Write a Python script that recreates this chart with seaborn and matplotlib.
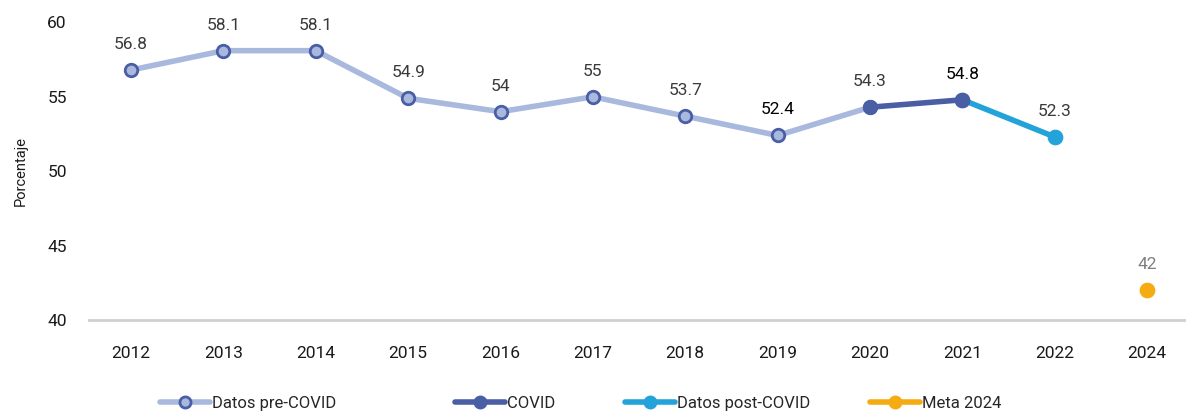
import matplotlib
matplotlib.use("Agg")
import matplotlib.pyplot as plt
import seaborn as sns
import pandas as pd
from matplotlib.lines import Line2D

# Year categories on the x axis
years = ["2012", "2013", "2014", "2015", "2016", "2017", "2018", "2019", "2020", "2021", "2022", "2024"]

# Series
pre_years = ["2012", "2013", "2014", "2015", "2016", "2017", "2018", "2019", "2020"]
pre_vals = [56.8, 58.1, 58.1, 54.9, 54.0, 55.0, 53.7, 52.4, 54.3]
covid_years = ["2020", "2021"]
covid_vals = [54.3, 54.8]
post_years = ["2021", "2022"]
post_vals = [54.8, 52.3]
meta_years = ["2024"]
meta_vals = [42.0]

# Point labels
label_years = ["2012", "2013", "2014", "2015", "2016", "2017", "2018", "2019", "2020", "2021", "2022", "2024"]
label_vals = [56.8, 58.1, 58.1, 54.9, 54.0, 55.0, 53.7, 52.4, 54.3, 54.8, 52.3, 42.0]
label_text = ["56.8", "58.1", "58.1", "54.9", "54", "55", "53.7", "52.4", "54.3", "54.8", "52.3", "42"]

C_PRE = "#a9b9de"
C_PRE_EDGE = "#4a5ea6"
C_COVID = "#4a5ea6"
C_POST = "#23a3da"
C_META = "#f5ab12"

sns.set_theme(style="white")
plt.rcParams["font.family"] = ["Roboto", "DejaVu Sans"]

fig = plt.figure(figsize=(11.86, 4.11), dpi=100)
ax = fig.add_axes([89 / 1186, (411 - 320) / 411, 1 - 89 / 1186, (320 - 22.4) / 411])


def frame(ys, vs):
    return pd.DataFrame({"x": [years.index(y) for y in ys], "v": vs})


sns.lineplot(data=frame(pre_years, pre_vals), x="x", y="v", ax=ax, color=C_PRE, lw=4,
             marker="o", markersize=9, markerfacecolor=C_PRE, markeredgecolor=C_PRE_EDGE,
             markeredgewidth=2, zorder=3)
sns.lineplot(data=frame(covid_years, covid_vals), x="x", y="v", ax=ax, color=C_COVID, lw=4,
             marker="o", markersize=10, markerfacecolor=C_COVID, markeredgecolor=C_COVID, zorder=4)
sns.lineplot(data=frame(post_years, post_vals), x="x", y="v", ax=ax, color=C_POST, lw=4,
             zorder=3)
sns.scatterplot(data=frame(post_years[1:], post_vals[1:]), x="x", y="v", ax=ax, color=C_POST,
                s=110, edgecolor=C_POST, zorder=5)
sns.scatterplot(data=frame(covid_years[1:], covid_vals[1:]), x="x", y="v", ax=ax, color=C_COVID,
                s=110, edgecolor=C_COVID, zorder=6)
sns.scatterplot(data=frame(meta_years, meta_vals), x="x", y="v", ax=ax, color=C_META,
                s=110, edgecolor=C_META, zorder=5)

for y, v, t in zip(label_years, label_vals, label_text):
    if t in ("52.4", "54.8"):
        col = "#000000"
    elif y == "2024":
        col = "#7f7f7f"
    else:
        col = "#3a3a3a"
    ax.annotate(t, (years.index(y), v), xytext=(0, 13), textcoords="offset points",
                ha="center", va="bottom", fontsize=12.5, color=col)

ax.set_xlim(-0.455, 11.42)
ax.set_ylim(40, 60)
ax.set_yticks([40, 45, 50, 55, 60])
ax.set_xticks(range(len(years)))
ax.set_xticklabels(years)
ax.tick_params(axis="both", labelsize=12.5, colors="#1a1a1a", length=0)
ax.tick_params(axis="x", pad=19)
ax.tick_params(axis="y", pad=16)
ax.set_xlabel("")
ax.set_ylabel("Porcentaje", fontsize=10.5, color="#1a1a1a", labelpad=14)
for s in ("top", "right", "left"):
    ax.spines[s].set_visible(False)
ax.spines["bottom"].set_color("#d0d0d0")
ax.spines["bottom"].set_linewidth(2)
ax.grid(False)

handles = [
    Line2D([], [], color=C_PRE, lw=4, marker="o", markersize=8, markerfacecolor=C_PRE,
           markeredgecolor=C_PRE_EDGE, markeredgewidth=2),
    Line2D([], [], color=C_COVID, lw=4, marker="o", markersize=9, markerfacecolor=C_COVID,
           markeredgecolor=C_COVID),
    Line2D([], [], color=C_POST, lw=4, marker="o", markersize=9, markerfacecolor=C_POST,
           markeredgecolor=C_POST),
    Line2D([], [], color=C_META, lw=4, marker="o", markersize=9, markerfacecolor=C_META,
           markeredgecolor=C_META),
]
labels = ["Datos pre-COVID", "COVID", "Datos post-COVID", "Meta 2024"]
# Legend entries placed individually along the bottom
starts_px = [160, 455, 625, 870]
for h, lab, x0 in zip(handles, labels, starts_px):
    fig.legend([h], [lab], loc="center left", bbox_to_anchor=(x0 / 1186, 0.018), frameon=False,
               fontsize=12, handlelength=3.0, handletextpad=0.1, borderpad=0, borderaxespad=0)

fig.savefig("out.png", dpi=100, facecolor="white")
